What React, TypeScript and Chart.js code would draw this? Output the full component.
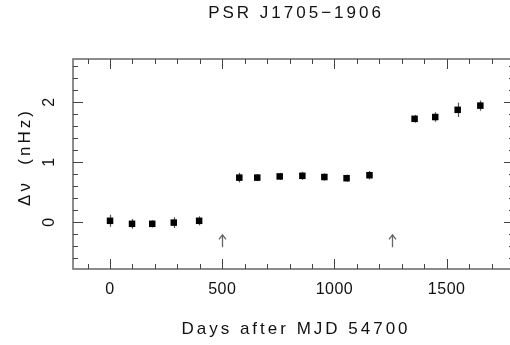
import React, { useEffect, useRef } from "react";
import { Chart, registerables } from "chart.js";

Chart.register(...registerables);

// ---- data ----
const titleText = "PSR J1705\u22121906";
const xTitle = "Days after MJD 54700";
const yTitle = "\u0394\u03bd  (nHz)";

const days = [0, 98, 188, 284, 397, 576, 656, 756, 857, 955, 1054, 1156, 1357, 1449, 1549, 1650];
const dnu = [0.02, -0.03, -0.03, -0.01, 0.02, 0.74, 0.74, 0.76, 0.77, 0.75, 0.73, 0.78, 1.72, 1.75, 1.87, 1.94];
const dnuErr = [0.1, 0.08, 0.06, 0.09, 0.075, 0.08, 0.06, 0.06, 0.067, 0.06, 0.06, 0.07, 0.065, 0.08, 0.12, 0.085];
const glitchDays = [500, 1255];

const xMajorTicks = [0, 500, 1000, 1500];
const yMajorTicks = [0, 1, 2];
const xMinorStep = 100;
const yMinorStep = 0.2;

const FONT = '"Liberation Sans", Arial, sans-serif';
const TEXT_COLOR = "#111";

const decorPlugin = {
  id: "decor",
  beforeDatasetsDraw(chart: any) {
    const { ctx, scales } = chart;
    const xs = scales.x;
    const ys = scales.y;
    ctx.save();
    // error bars
    ctx.strokeStyle = "#555";
    ctx.lineWidth = 1.2;
    days.forEach((d, i) => {
      const px = Math.round(xs.getPixelForValue(d)) + 0.5;
      const y1 = ys.getPixelForValue(dnu[i] - dnuErr[i]);
      const y2 = ys.getPixelForValue(dnu[i] + dnuErr[i]);
      ctx.beginPath();
      ctx.moveTo(px, y1);
      ctx.lineTo(px, y2);
      ctx.stroke();
    });
    // glitch arrows
    ctx.strokeStyle = "#666";
    ctx.lineWidth = 1.3;
    glitchDays.forEach((g) => {
      const px = Math.round(xs.getPixelForValue(g)) + 0.5;
      const yb = ys.getPixelForValue(-0.42);
      const yt = ys.getPixelForValue(-0.215);
      ctx.beginPath();
      ctx.moveTo(px, yb);
      ctx.lineTo(px, yt);
      ctx.moveTo(px - 3.5, yt + 4.5);
      ctx.lineTo(px, yt);
      ctx.lineTo(px + 3.5, yt + 4.5);
      ctx.stroke();
    });
    ctx.restore();
  },
  afterDraw(chart: any) {
    const { ctx, scales, chartArea } = chart;
    const xs = scales.x;
    const ys = scales.y;
    const { left, right, top, bottom } = chartArea;
    ctx.save();
    // frame
    ctx.strokeStyle = "#707070";
    ctx.lineWidth = 1.6;
    ctx.strokeRect(left, top, right - left, bottom - top);

    // ticks
    ctx.strokeStyle = "#444";
    ctx.lineWidth = 1;
    const major = 10;
    const minor = 5;
    const xStart = Math.ceil(xs.min / xMinorStep) * xMinorStep;
    for (let v = xStart; v <= xs.max + 1e-9; v += xMinorStep) {
      const isMajor = xMajorTicks.includes(Math.round(v));
      const len = isMajor ? major : minor;
      const px = Math.round(xs.getPixelForValue(v)) + 0.5;
      ctx.beginPath();
      ctx.moveTo(px, bottom);
      ctx.lineTo(px, bottom - len);
      ctx.moveTo(px, top);
      ctx.lineTo(px, top + len);
      ctx.stroke();
    }
    const yStart = Math.ceil(ys.min / yMinorStep - 1e-9);
    for (let k = yStart; k * yMinorStep <= ys.max + 1e-9; k++) {
      const v = k * yMinorStep;
      const isMajor = yMajorTicks.some((t) => Math.abs(t - v) < 1e-6);
      const len = isMajor ? major : minor;
      const py = Math.round(ys.getPixelForValue(v)) + 0.5;
      ctx.beginPath();
      ctx.moveTo(left, py);
      ctx.lineTo(left + len, py);
      ctx.moveTo(right, py);
      ctx.lineTo(right - len, py);
      ctx.stroke();
    }

    // texts
    ctx.fillStyle = TEXT_COLOR;
    ctx.textAlign = "center";
    ctx.textBaseline = "middle";

    ctx.font = `16px ${FONT}`;
    (ctx as any).letterSpacing = "0.5px";
    xMajorTicks.forEach((t) => {
      ctx.fillText(String(t), xs.getPixelForValue(t), bottom + 21);
    });
    yMajorTicks.forEach((t) => {
      ctx.save();
      ctx.translate(left - 23, ys.getPixelForValue(t));
      ctx.rotate(-Math.PI / 2);
      ctx.fillText(String(t), 0, 0);
      ctx.restore();
    });

    ctx.font = `17px ${FONT}`;
    (ctx as any).letterSpacing = "3px";
    ctx.fillText(titleText, 296, 13);
    ctx.fillText(xTitle, 296, bottom + 60);
    ctx.save();
    ctx.translate(25, 157);
    ctx.rotate(-Math.PI / 2);
    ctx.fillText(yTitle, 0, 0);
    ctx.restore();

    (ctx as any).letterSpacing = "0px";
    ctx.restore();
  },
};

export default function App() {
  const ref = useRef<HTMLCanvasElement | null>(null);
  useEffect(() => {
    document.body.style.margin = "0";
    document.body.style.overflow = "hidden";
    const canvas = ref.current;
    if (!canvas) return;
    const chart = new Chart(canvas, {
      type: "scatter",
      data: {
        datasets: [
          {
            data: days.map((d, i) => ({ x: d, y: dnu[i] })),
            pointStyle: "rect",
            pointRadius: 4.6,
            backgroundColor: "#000",
            borderColor: "#000",
            borderWidth: 0,
          },
        ],
      },
      options: {
        animation: false,
        responsive: false,
        devicePixelRatio: 1,
        layout: { padding: { left: 73, top: 59, right: 6, bottom: 76 } },
        scales: {
          x: { type: "linear", min: -165, max: 1800, display: false },
          y: { type: "linear", min: -0.783, max: 2.717, display: false },
        },
        plugins: {
          legend: { display: false },
          tooltip: { enabled: false },
          title: { display: false },
        },
      },
      plugins: [decorPlugin],
    } as any);
    return () => chart.destroy();
  }, []);
  return (
    <div style={{ position: "fixed", left: 0, top: 0, width: 510, height: 345, overflow: "hidden", background: "#fff" }}>
      <canvas ref={ref} width={520} height={345} style={{ width: 520, height: 345, display: "block" }} />
    </div>
  );
}
